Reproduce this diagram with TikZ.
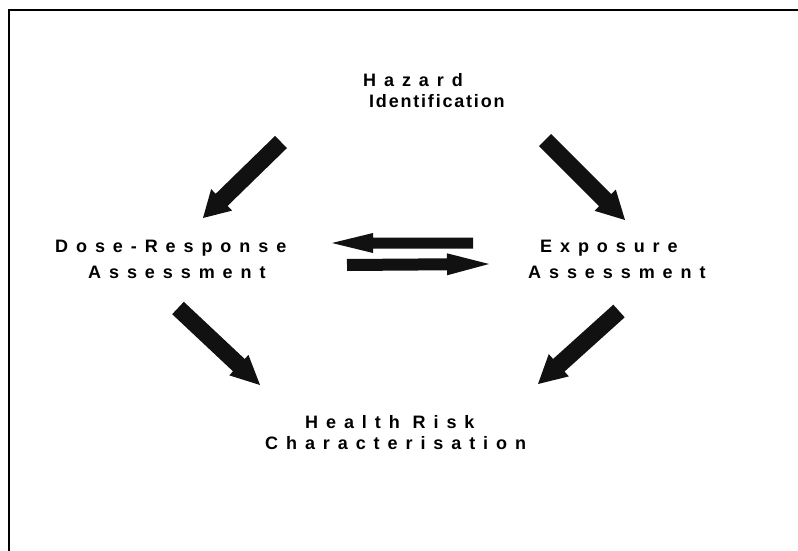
\documentclass[tikz,border=0pt]{standalone}
\usepackage{fontspec}
\usetikzlibrary{calc}
\newfontfamily\lblfont[LetterSpace=44]{Liberation Sans}
\newfontfamily\lbltight[LetterSpace=10]{Liberation Sans}
\definecolor{arrink}{HTML}{111111}
\tikzset{
  lbl/.style={anchor=base west, inner sep=0pt, font=\lblfont\bfseries\fontsize{18}{20}\selectfont},
  lbltt/.style={lbl, font=\lbltight\bfseries\fontsize{18}{20}\selectfont},
  fatfill/.style={fill=arrink},
  frameline/.style={line width=1.6pt, draw=black}
}
\newcommand\fatarr[5]{%
  \path ($(#2)!#5!(#1)$) coordinate (fabase);
  \fill[fatfill] ($(#1)!#3!90:(#2)$) -- ($(fabase)!#3!90:(#2)$) -- ($(fabase)!#4!90:(#2)$) -- (#2)
    -- ($(fabase)!#4!-90:(#2)$) -- ($(fabase)!#3!-90:(#2)$) -- ($(#1)!#3!-90:(#2)$) -- cycle;}
\begin{document}
\begin{tikzpicture}[x=1pt,y=-1pt]
\useasboundingbox (0,0) rectangle (798,551);
\fill[white] (0,0) rectangle (798,551);
% frame (top and left edges visible)
\coordinate (fr1) at (9,551);
\coordinate (fr2) at (9,10);
\coordinate (fr3) at (798,10);
\draw[frameline] (fr1) -- (fr2) -- (fr3);
% labels
\node[lbl]   (haz1) at (363,86)  {Hazard};
\node[lbltt] (haz2) at (369,107) {Identification};
\node[lbl]   (dose1) at (55,252) {Dose-Response};
\node[lbl]   (dose2) at (88,278) {Assessment};
\node[lbl]   (exp1) at (540,252) {Exposure};
\node[lbl]   (exp2) at (528,278) {Assessment};
\node[lbl]   (hr1) at (305,428) {Health Risk};
\node[lbl]   (hr2) at (265,449) {Characterisation};
% arrow end points
\coordinate (a1t) at (281,142); \coordinate (a1h) at (203,218);
\coordinate (a2t) at (545,140); \coordinate (a2h) at (625,220);
\coordinate (a3t) at (473,243); \coordinate (a3h) at (332,243);
\coordinate (a4t) at (347,265); \coordinate (a4h) at (489,264);
\coordinate (a5t) at (178,308); \coordinate (a5h) at (260,385);
\coordinate (a6t) at (619,311); \coordinate (a6h) at (538,384);
\fatarr{a1t}{a1h}{8.5pt}{15pt}{26pt}
\fatarr{a2t}{a2h}{8.5pt}{15pt}{28pt}
\fatarr{a3t}{a3h}{5.5pt}{10pt}{41pt}
\fatarr{a4t}{a4h}{6pt}{11pt}{42pt}
\fatarr{a5t}{a5h}{8.5pt}{14pt}{29pt}
\fatarr{a6t}{a6h}{8.5pt}{15pt}{28pt}
\end{tikzpicture}
\end{document}
